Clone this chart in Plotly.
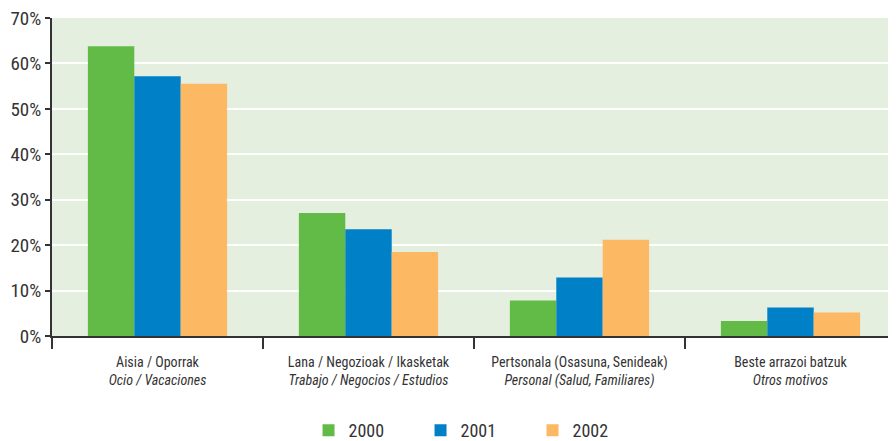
import plotly.graph_objects as go

categories = [
    "Aisia / Oporrak<br><i>Ocio / Vacaciones</i>",
    "Lana / Negozioak / Ikasketak<br><i>Trabajo / Negocios / Estudios</i>",
    "Pertsonala (Osasuna, Senideak)<br><i>Personal (Salud, Familiares)</i>",
    "Beste arrazoi batzuk<br><i>Otros motivos</i>",
]
years = ["2000", "2001", "2002"]
values_2000 = [63.8, 27.1, 7.8, 3.3]
values_2001 = [57.2, 23.5, 12.9, 6.3]
values_2002 = [55.5, 18.5, 21.2, 5.2]
y_ticks = [0, 10, 20, 30, 40, 50, 60, 70]
y_tick_labels = ["0%", "10%", "20%", "30%", "40%", "50%", "60%", "70%"]

colors = ["#62bb46", "#0080c6", "#fdb863"]
font = "Roboto Condensed, Liberation Sans Narrow, DejaVu Sans Condensed, Roboto, sans-serif"

fig = go.Figure()
for name, vals, col in zip(years, [values_2000, values_2001, values_2002], colors):
    fig.add_trace(go.Bar(x=categories, y=vals, name=name, marker_color=col,
                         marker_line_width=0))

# page body has an 8px margin, so the figure is shifted by 8px
fig.update_layout(
    width=888, height=441,
    margin=dict(l=44, r=0, t=10, b=112),
    paper_bgcolor="white",
    plot_bgcolor="#e4efdf",
    barmode="group",
    bargap=0.34,
    bargroupgap=0,
    font=dict(family=font, color="#333333"),
    showlegend=True,
    legend=dict(orientation="h", x=0.503, xanchor="center", y=-0.298, yanchor="middle",
                font=dict(size=18, color="#333333", family=font),
                entrywidth=67, traceorder="normal"),
)
fig.update_xaxes(
    automargin=False,
    showline=True, linecolor="#333333", linewidth=2,
    ticks="outside", tickson="boundaries", ticklen=11, tickcolor="#333333",
    tickwidth=1.5, ticklabelstandoff=12,
    tickfont=dict(size=14, color="#333333", family=font),
    showgrid=False,
)
fig.update_yaxes(
    automargin=False, ticklabeloverflow="allow",
    range=[0, 70], tickvals=y_ticks, ticktext=y_tick_labels,
    showline=True, linecolor="#333333", linewidth=2,
    ticks="outside", ticklen=5, tickcolor="#333333", tickwidth=2,
    tickfont=dict(size=19, color="#333333", family=font),
    gridcolor="white", gridwidth=2, zeroline=False,
)

fig.write_html("out.html")
